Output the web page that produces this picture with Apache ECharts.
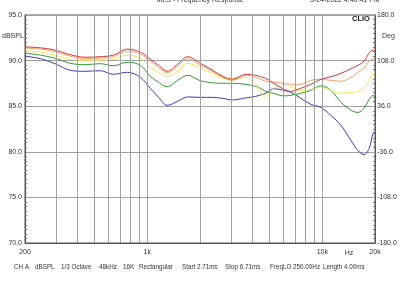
<!DOCTYPE html>
<html><head><meta charset="utf-8">
<script src="https://cdn.jsdelivr.net/npm/echarts@6/dist/echarts.min.js"></script>
<style>html,body{margin:0;padding:0;background:#fff}#c{width:400px;height:284px}</style>
</head><body><div id="c"></div>
<script>
const freqs = [200,245,297,362,441,538,640,768,912,1040,1160,1300,1490,1700,2010,2360,2690,3070,3650,4160,4440,4750,5280,6020,6600,7530,8600,9810,11200,12800,14600,16000,17300,18500,19500,20000];
const red = [91.5,91.4,91.15,90.65,90.37,90.43,90.6,91.26,90.93,90.15,89.49,88.83,89.6,90.43,89.71,88.94,88.28,87.95,88.5,88.39,88.23,88.06,87.51,86.85,86.63,86.96,87.4,87.95,88.23,88.61,89.11,89.49,89.93,90.82,91.15,91.04];
const orange = [91.37,91.26,90.98,90.49,90.21,90.26,90.43,91.04,90.71,89.93,89.27,88.67,89.38,90.21,89.49,88.83,88.17,87.84,88.39,88.17,87.95,87.73,87.62,87.51,87.4,87.4,87.84,87.95,87.84,87.73,88.17,88.72,89.16,89.93,90.15,90.15];
const yellow = [91.09,90.93,90.6,90.15,90.04,90.04,90.15,90.6,90.26,89.27,88.72,88.28,88.83,89.71,89.16,88.61,88.06,88.01,88.17,87.4,86.52,86.08,86.96,87.29,87.18,86.74,86.85,87.07,86.74,86.41,86.52,86.63,86.96,87.84,88.5,88.5];
const green = [90.82,90.6,90.26,89.71,89.55,89.66,89.44,89.82,89.49,88.28,87.62,87.13,87.84,88.39,87.79,87.57,87.51,87.51,87.4,87.18,86.96,86.63,86.41,86.13,86.19,86.41,86.74,87.24,86.74,85.42,84.54,84.32,84.76,85.75,86.19,85.97];
const blue = [90.49,90.21,89.66,88.94,88.83,88.89,88.5,88.72,88.17,86.96,85.97,85.09,85.53,86.02,85.97,85.97,85.86,85.69,85.91,86.08,86.24,86.41,86.91,86.74,86.52,85.86,85.2,84.87,83.99,82.89,81.23,80.13,79.69,80.35,82.0,82.12];
const gridFreqs = [300,400,500,600,700,800,900,1000,2000,3000,4000,5000,6000,7000,8000,9000,10000];
const xLabelVals = [200,1000,10000,20000];
const xLabelText = ['200','1k','10k','20k'];
const phaseLabels = ['-180.0','-108.0','-36.0','36.0','108.0','180.0'];
const title = 'MLS - Frequency Response';
const dateText = '3-24-2022 4:40:41 PM';
const infoItems = ['CH A','dBSPL','1/3 Octave','48kHz','16K','Rectangular','Start 2.71ms','Stop 6.71ms','FreqLO 250.00Hz','Length 4.00ms'];
const infoX = [14,35,61,99,123,139,182,225,270,323];

const FONT = 'Arial, "Liberation Sans", sans-serif';
const TXT = '#333';
const chart = echarts.init(document.getElementById('c'), null, {renderer:'canvas'});
const mk = v => freqs.map((f,i)=>[f, v[i]]);
const curve = (name, vals, color) => ({
  name, type:'line', data: mk(vals), xAxisIndex:0, yAxisIndex:0, showSymbol:false, symbol:'none',
  smooth:0.35, z:3, lineStyle:{color, width:1}, silent:true
});
const gfx = [];
gfx.push({type:'text', left:'center', top:-3, style:{text:title, font:'7px '+FONT, fill:TXT}});
gfx.push({type:'text', x:310, y:-3, style:{text:dateText, font:'7px '+FONT, fill:TXT}});
gfx.push({type:'text', x:352, y:15, style:{text:'CLIO', font:'bold 7.5px '+FONT, fill:'#222'}});
gfx.push({type:'text', x:2, y:33, style:{text:'dBSPL', font:'7px '+FONT, fill:TXT}});
gfx.push({type:'text', x:382, y:33, style:{text:'Deg', font:'7px '+FONT, fill:TXT}});
gfx.push({type:'text', x:349, y:253, style:{text:'Hz', font:'7px '+FONT, fill:TXT, align:'center', verticalAlign:'middle'}});
infoItems.forEach((t,i)=>gfx.push({type:'text', x:infoX[i], y:267, style:{text:t, font:'6.3px '+FONT, fill:TXT, verticalAlign:'middle'}}));

chart.setOption({
  animation:false,
  backgroundColor:'#fff',
  textStyle:{fontFamily:FONT},
  grid:{left:25, right:25, top:15, bottom:41, show:true, borderColor:'#555', borderWidth:1},
  xAxis:{type:'log', logBase:10, min:200, max:20000,
    axisLine:{show:true, onZero:false, lineStyle:{color:'#555'}},
    axisTick:{show:false}, splitLine:{show:false}, minorSplitLine:{show:false},
    axisLabel:{customValues:xLabelVals, fontSize:7, color:TXT, margin:6,
      formatter:v=>{const i=xLabelVals.indexOf(Math.round(v)); return i>=0?xLabelText[i]:'';}}},
  yAxis:[
    {type:'value', min:70, max:95, interval:5, position:'left',
      axisLine:{show:true, lineStyle:{color:'#555'}},
      axisTick:{show:false, inside:true, length:3},
      minorTick:{show:true, splitNumber:10, length:2, lineStyle:{color:'#777'}},
      splitLine:{show:true, lineStyle:{color:'#a0a0a0', width:1}},
      axisLabel:{formatter:v=>v.toFixed(1), fontSize:7, color:TXT, margin:3}},
    {type:'value', min:0, max:360, interval:72, position:'right',
      axisLine:{show:true, lineStyle:{color:'#555'}},
      axisTick:{show:false, inside:true, length:3},
      minorTick:{show:true, splitNumber:10, length:2, lineStyle:{color:'#777'}},
      splitLine:{show:false},
      axisLabel:{formatter:v=>phaseLabels[Math.round(v/72)], fontSize:7, color:TXT, margin:2}}
  ],
  series:[
    {type:'line', data:[[200,70]], symbol:'none', lineStyle:{opacity:0}, silent:true, z:1,
      markLine:{silent:true, symbol:['none','none'], animation:false, label:{show:false},
        lineStyle:{color:'#a0a0a0', type:'solid', width:1},
        data: gridFreqs.map(f=>({xAxis:f}))}},
    curve('blue', blue, '#3a3ab8'),
    curve('green', green, '#2f9a2f'),
    curve('yellow', yellow, '#f0ea50'),
    curve('orange', orange, '#f0a068'),
    curve('red', red, '#d03838')
  ],
  graphic: gfx
});
</script></body></html>
